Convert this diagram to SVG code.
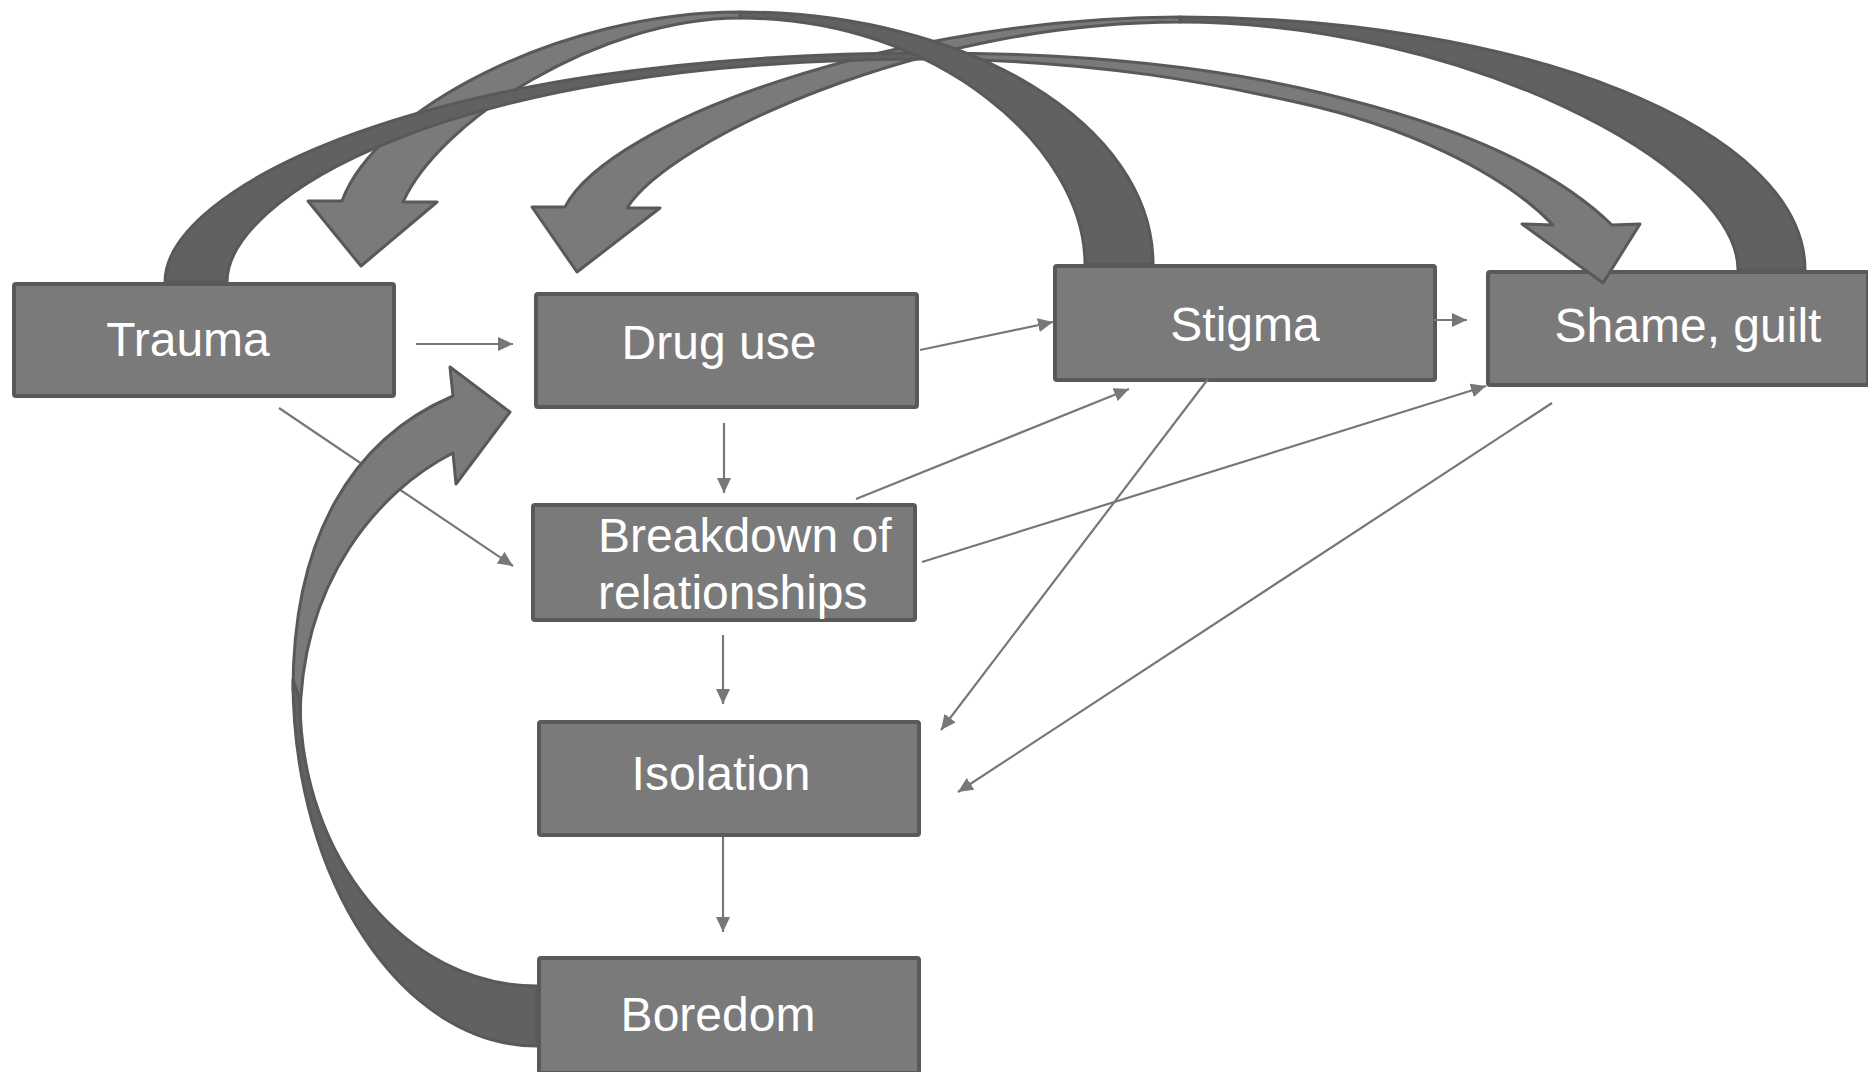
<svg xmlns="http://www.w3.org/2000/svg" width="1868" height="1072" viewBox="0 0 1868 1072">
<defs>
<style>
.box{fill:#7a7a7a;stroke:#595959;stroke-width:4;stroke-linejoin:round}
.lbl{font-family:"Liberation Sans",Arial,sans-serif;font-size:48px;fill:#ffffff}
.conn{stroke:#777777;stroke-width:2.2;fill:none;marker-end:url(#ah)}
.back{fill:#616161;stroke:#595959;stroke-width:3;stroke-linejoin:round}
.front{fill:#7a7a7a;stroke:#595959;stroke-width:3;stroke-linejoin:round}
</style>
<marker id="ah" markerUnits="userSpaceOnUse" markerWidth="16" markerHeight="14" refX="15" refY="7" orient="auto">
<path d="M0,0 L15,7 L0,14 Z" fill="#777777"/>
</marker>
</defs>
<rect width="1868" height="1072" fill="#ffffff"/>
<g id="nodes">
<g id="trauma"><rect class="box" x="14" y="284" width="380" height="112" rx="2"/><text class="lbl" x="188" y="356" text-anchor="middle">Trauma</text></g>
<g id="drug-use"><rect class="box" x="536" y="294" width="381" height="113" rx="2"/><text class="lbl" x="719" y="359" text-anchor="middle">Drug use</text></g>
<g id="breakdown"><rect class="box" x="533" y="505" width="382" height="115" rx="2"/><text class="lbl" x="598" y="552">Breakdown of</text><text class="lbl" x="598" y="609">relationships</text></g>
<g id="isolation"><rect class="box" x="539" y="722" width="380" height="113" rx="2"/><text class="lbl" x="721" y="790" text-anchor="middle">Isolation</text></g>
<g id="boredom"><rect class="box" x="539" y="958" width="380" height="115" rx="2"/><text class="lbl" x="718" y="1031" text-anchor="middle">Boredom</text></g>
<g id="stigma"><rect class="box" x="1055" y="266" width="380" height="114" rx="2"/><text class="lbl" x="1245" y="341" text-anchor="middle">Stigma</text></g>
<g id="shame"><rect class="box" x="1488" y="272" width="380" height="113" rx="2"/><text class="lbl" x="1688" y="342" text-anchor="middle">Shame, guilt</text></g>
</g>
<g id="connectors">
<line class="conn" x1="416" y1="344" x2="513" y2="344"/>
<line class="conn" x1="279" y1="408" x2="513" y2="566"/>
<line class="conn" x1="724" y1="423" x2="724" y2="493"/>
<line class="conn" x1="920" y1="350" x2="1053" y2="322"/>
<line class="conn" x1="1433" y1="320" x2="1467" y2="320"/>
<line class="conn" x1="856" y1="499" x2="1129" y2="389"/>
<line class="conn" x1="922" y1="562" x2="1486" y2="386"/>
<line class="conn" x1="1208" y1="379" x2="941" y2="730"/>
<line class="conn" x1="1552" y1="403" x2="958" y2="792"/>
<line class="conn" x1="723" y1="635" x2="723" y2="704"/>
<line class="conn" x1="723" y1="837" x2="723" y2="932"/>
<g id="loop-boredom-drug">
<path class="front" d="M293,690 C293,540 350,440 453,396 L450,367 L510,412 L456,484 L453,453 C380,490 300,580 300,723 Z"/>
<path class="back" d="M293,680 C293,880 402,1046 537,1046 L537,986 C406,986 300,858 300,700 Z"/>
</g>
<g id="arc-shame-drug">
<path class="back" d="M1805,270 C1805,129 1525,17 1180,17 L1180,22 C1460,22 1738,165 1738,270 Z"/>
<path class="front" d="M1180,17 C900,17 610,120 565,207 L532,207 L577,272 L660,208 L627,208 C670,140 920,22 1180,22 Z"/>
</g>
<path id="arc-stigma-trauma-front" class="front" d="M740,12 C560,12 375,110 342,201 L308,201 L361,266 L437,202 L403,202 C440,120 600,18 740,18 Z"/>
<g id="arc-trauma-shame">
<path class="back" d="M165,282 C165,190 420,53 930,53 L930,59 C440,59 227,200 227,282 Z"/>
<path class="front" d="M930,53 C1100,53 1220,70 1300,88 C1420,115 1540,155 1612,225 L1640,224 L1603,283 L1522,224 L1553,225 C1500,170 1400,125 1300,103 C1220,85 1100,60 930,59 Z"/>
</g>
<path id="arc-stigma-trauma-back" class="back" d="M1153,264 C1153,124 967,12 740,12 L740,18 C940,18 1085,150 1085,264 Z"/>
</g>
</svg>
